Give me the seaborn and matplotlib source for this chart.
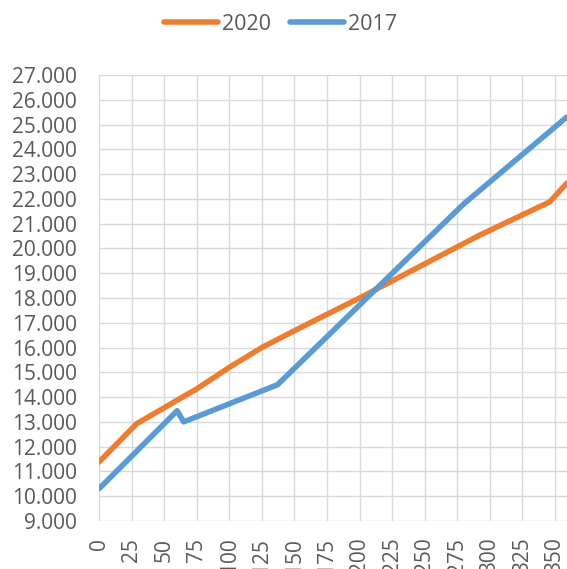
import matplotlib
matplotlib.use('Agg')
from matplotlib import pyplot as plt
from matplotlib.ticker import FuncFormatter
import seaborn as sns

# values
x_2020 = [0, 29, 75, 100, 125, 150, 200, 292, 346, 359]
y_2020 = [11380, 12930, 14330, 15200, 16000, 16680, 18000, 20530, 21880, 22630]

x_2017 = [0, 60, 65, 137, 280, 359]
y_2017 = [10300, 13450, 13000, 14500, 21800, 25300]

x_ticks = list(range(0, 351, 25))
y_ticks = list(range(9000, 27001, 1000))

sns.set_style('white')
plt.rcParams['font.family'] = ['Open Sans', 'DejaVu Sans']

text_col = '#595959'
fig = plt.figure(figsize=(5.67, 5.69), dpi=100)
ax = fig.add_axes([99/567, 1 - 521/569, 1 - 99/567, (521 - 75)/569])

sns.lineplot(x=x_2020, y=y_2020, ax=ax, color='#ED7D31', linewidth=4, label='2020')
sns.lineplot(x=x_2017, y=y_2017, ax=ax, color='#5B9BD5', linewidth=4, label='2017')

ax.set_xlim(0, 359.2)
ax.set_ylim(9000, 27000)
ax.set_xticks(x_ticks)
ax.set_yticks(y_ticks)
ax.yaxis.set_major_formatter(FuncFormatter(lambda v, p: f"{int(v):,}".replace(',', '.')))
ax.grid(True, color='#D9D9D9', linewidth=1.0)
ax.set_axisbelow(True)
for s in ax.spines.values():
    s.set_visible(False)
ax.tick_params(axis='y', length=0, pad=16, labelsize=15, labelcolor=text_col)
ax.tick_params(axis='x', length=0, pad=12, labelsize=15, labelcolor=text_col, labelrotation=90)
ax.set_xlabel('')
ax.set_ylabel('')

handles, labels = ax.get_legend_handles_labels()
ax.get_legend().remove()
leg = fig.legend(handles, labels, loc='upper center', bbox_to_anchor=(0.495, 1.01), ncol=2,
                 frameon=False, fontsize=15.5, handlelength=2.5, handletextpad=0.2,
                 columnspacing=0.9, labelcolor=text_col)

fig.savefig('out.png', dpi=100)
